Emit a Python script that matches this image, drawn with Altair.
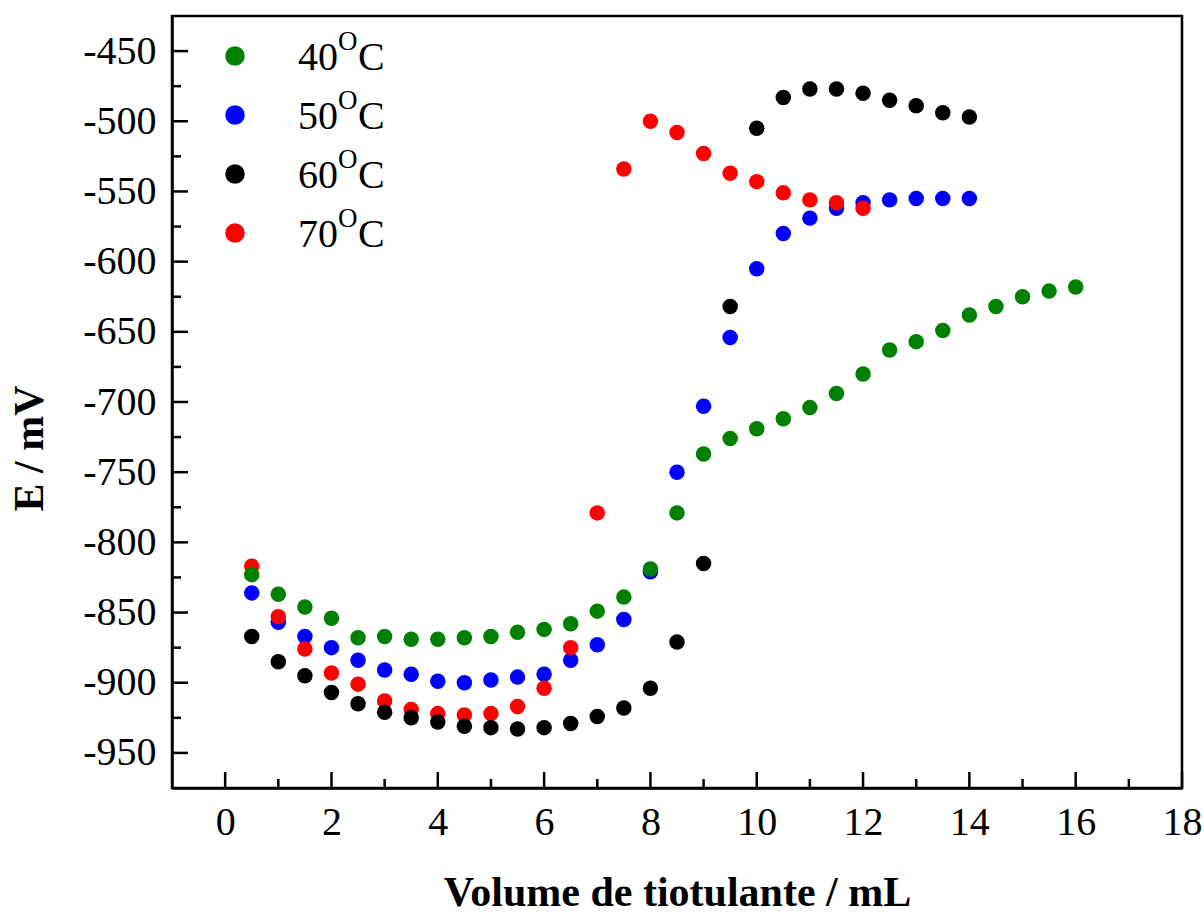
import altair as alt
import pandas as pd

# ---------------- data ----------------
vol_40 = [0.5, 1.0, 1.5, 2.0, 2.5, 3.0, 3.5, 4.0, 4.5, 5.0, 5.5, 6.0, 6.5, 7.0, 7.5, 8.0,
          8.5, 9.0, 9.5, 10.0, 10.5, 11.0, 11.5, 12.0, 12.5, 13.0, 13.5, 14.0, 14.5, 15.0, 15.5, 16.0]
e_40 = [-823, -837, -846, -854, -868, -867, -869, -869, -868, -867, -864, -862, -858, -849, -839, -819,
        -779, -737, -726, -719, -712, -704, -694, -680, -663, -657, -649, -638, -632, -625, -621, -618]

vol_50 = [0.5, 1.0, 1.5, 2.0, 2.5, 3.0, 3.5, 4.0, 4.5, 5.0, 5.5, 6.0, 6.5, 7.0, 7.5, 8.0,
          8.5, 9.0, 9.5, 10.0, 10.5, 11.0, 11.5, 12.0, 12.5, 13.0, 13.5, 14.0]
e_50 = [-836, -857, -867, -875, -884, -891, -894, -899, -900, -898, -896, -894, -884, -873, -855, -821,
        -750, -703, -654, -605, -580, -569, -562, -558, -556, -555, -555, -555]

vol_60 = [0.5, 1.0, 1.5, 2.0, 2.5, 3.0, 3.5, 4.0, 4.5, 5.0, 5.5, 6.0, 6.5, 7.0, 7.5, 8.0,
          8.5, 9.0, 9.5, 10.0, 10.5, 11.0, 11.5, 12.0, 12.5, 13.0, 13.5, 14.0]
e_60 = [-867, -885, -895, -907, -915, -921, -925, -928, -931, -932, -933, -932, -929, -924, -918, -904,
        -871, -815, -632, -505, -483, -477, -477, -480, -485, -489, -494, -497]

vol_70 = [0.5, 1.0, 1.5, 2.0, 2.5, 3.0, 3.5, 4.0, 4.5, 5.0, 5.5, 6.0, 6.5, 7.0, 7.5, 8.0,
          8.5, 9.0, 9.5, 10.0, 10.5, 11.0, 11.5, 12.0]
e_70 = [-817, -853, -876, -893, -901, -913, -919, -922, -923, -922, -917, -904, -875, -779, -534, -500,
        -508, -523, -537, -543, -551, -556, -558, -562]

legend_nums = ["40", "50", "60", "70"]
legend_colors = ["#008000", "#0000ff", "#000000", "#ff0000"]

x_major = [0, 2, 4, 6, 8, 10, 12, 14, 16, 18]
x_minor = [1, 3, 5, 7, 9, 11, 13, 15, 17]
y_major = [-950, -900, -850, -800, -750, -700, -650, -600, -550, -500, -450]
y_minor = [-925, -875, -825, -775, -725, -675, -625, -575, -525, -475]

# ---------------- layout ----------------
W, H = 1010, 772
FONT = "Liberation Serif"

xscale = alt.Scale(domain=[-1, 18], nice=False, zero=False)
yscale = alt.Scale(domain=[-975, -425], nice=False, zero=False)

xaxis = alt.Axis(values=x_major, ticks=False, grid=False, labelFont=FONT, labelFontSize=40,
                 labelPadding=14, labelFlush=False, labelOverlap=False, labelColor="black",
                 title="Volume de tiotulante / mL", titleFont=FONT, titleFontSize=42,
                 titleFontWeight="bold", titleColor="black", titleX=W / 2, titleY=117,
                 titleAlign="center", titleBaseline="alphabetic",
                 domainColor="black", domainWidth=2.5)
yaxis = alt.Axis(values=y_major, ticks=False, grid=False, labelFont=FONT, labelFontSize=40,
                 labelPadding=16, labelFlush=False, labelOverlap=False, labelColor="black",
                 labelExpr="'-' + abs(datum.value)",
                 title="E / mV", titleFont=FONT, titleFontSize=42, titleFontWeight="bold",
                 titleColor="black", titleAngle=270, titleX=-143, titleY=432,
                 titleAlign="center", titleBaseline="middle",
                 domainColor="black", domainWidth=2.5)


def series(xs, ys, color):
    df = pd.DataFrame({"v": xs, "e": ys})
    return alt.Chart(df).mark_circle(size=240, color=color, opacity=1).encode(
        x=alt.X("v:Q", scale=xscale, axis=xaxis),
        y=alt.Y("e:Q", scale=yscale, axis=yaxis),
    )


def xticks(vals, length):
    return alt.Chart(pd.DataFrame({"v": vals})).mark_rule(color="black", strokeWidth=2.5).encode(
        x=alt.X("v:Q", scale=xscale, axis=xaxis), y=alt.value(H - length), y2=alt.value(H))


def yticks(vals, length):
    return alt.Chart(pd.DataFrame({"e": vals})).mark_rule(color="black", strokeWidth=2.5).encode(
        y=alt.Y("e:Q", scale=yscale, axis=yaxis), x=alt.value(0), x2=alt.value(length))


layers = [
    series(vol_50, e_50, "#0000ff"),
    series(vol_70, e_70, "#ff0000"),
    series(vol_60, e_60, "#000000"),
    series(vol_40, e_40, "#008000"),
    xticks(x_major, 16), xticks(x_minor, 9),
    yticks(y_major, 16), yticks(y_minor, 9),
]

# manual legend (symbol + "40" + superscript "O" + "C")
for i, (num, col) in enumerate(zip(legend_nums, legend_colors)):
    d = pd.DataFrame({"k": [num]})
    cy = 40 + 59 * i
    layers.append(alt.Chart(d).mark_circle(size=380, color=col, opacity=1).encode(
        x=alt.value(63), y=alt.value(cy)))
    layers.append(alt.Chart(d).mark_text(font=FONT, fontSize=40, align="left", baseline="alphabetic",
                                         color="black").encode(
        text="k:N", x=alt.value(126), y=alt.value(cy + 14)))
    layers.append(alt.Chart(d).mark_text(text="O", font=FONT, fontSize=27, align="left",
                                         baseline="alphabetic", color="black").encode(
        x=alt.value(166), y=alt.value(cy - 6)))
    layers.append(alt.Chart(d).mark_text(text="C", font=FONT, fontSize=40, align="left",
                                         baseline="alphabetic", color="black").encode(
        x=alt.value(186), y=alt.value(cy + 14)))

chart = alt.layer(*layers).properties(
    width=W, height=H,
    autosize=alt.AutoSizeParams(type="none"),
    padding={"left": 172, "top": 16, "right": 22, "bottom": 126},
    background="white",
).configure_view(stroke="black", strokeWidth=2.5)

chart.save("out.html", embed_options={"renderer": "svg", "actions": False})
